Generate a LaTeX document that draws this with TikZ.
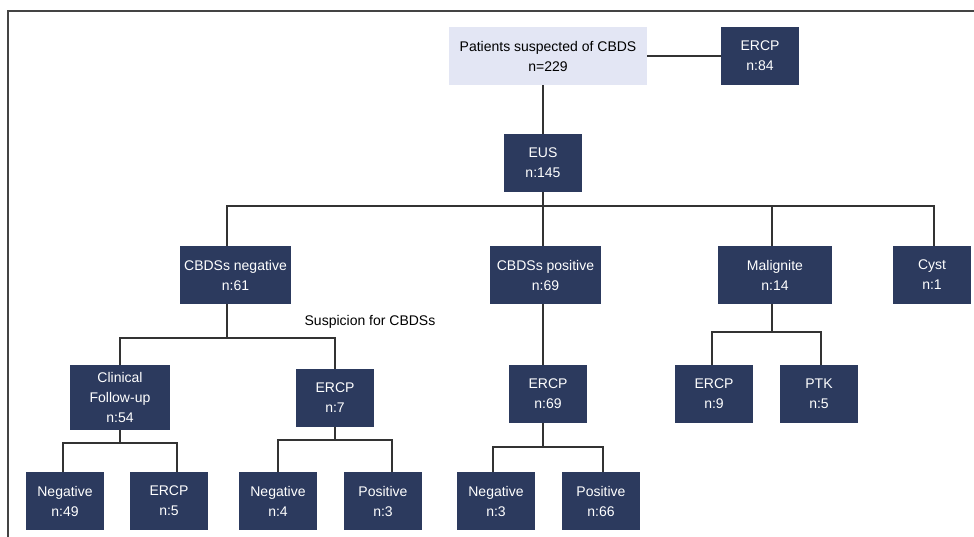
\documentclass[tikz,border=0pt]{standalone}
\usepackage{fontspec}
\setmainfont{Liberation Sans}
\usepackage{tikz}
\usetikzlibrary{positioning, calc}
\usepackage{xcolor}
\definecolor{FlowNavy}{HTML}{2C3A5E}
\definecolor{FlowLavender}{HTML}{E3E6F4}
\definecolor{FlowLine}{HTML}{333333}
\definecolor{FlowFrame}{HTML}{444444}
\definecolor{FlowWhite}{HTML}{ffffff}
\tikzset{
    % Box styles - all sharp corners
    cohort/.style={
        rectangle,
        fill=FlowLavender,
        minimum width=198pt,
        minimum height=58pt,
        inner sep=0pt,
        align=center,
        font=\fontsize{14}{20}\selectfont
    },
    stage/.style={
        rectangle,
        fill=FlowNavy,
        text=FlowWhite,
        minimum width=78pt,
        minimum height=58pt,
        inner sep=0pt,
        align=center,
        font=\fontsize{14}{20}\selectfont
    },
    % Connector styles - elbow lines only
    link/.style={
        line width=1.2pt,
        draw=FlowLine
    },
    frameline/.style={
        line width=1.5pt,
        draw=FlowFrame
    }
}
\begin{document}
\begin{tikzpicture}[x=1pt, y=-1pt]
    \useasboundingbox (0,0) rectangle (974,537);
    \draw[frameline] (8,537) -- (8,11) -- (974,11);

    % top level
    \node[cohort] (pat) at (548,56) {Patients suspected of CBDS\\n=229};
    \node[stage] (ercp0) at (760,56) {ERCP\\n:84};
    \node[stage] (eus) at (543,163) {EUS\\n:145};

    % EUS findings
    \node[stage, minimum width=111pt] (cneg) at (235.5,275) {CBDSs negative\\n:61};
    \node[stage, minimum width=111pt] (cpos) at (545.5,275) {CBDSs positive\\n:69};
    \node[stage, minimum width=114pt] (malig) at (775,275) {Malignite\\n:14};
    \node[stage] (cyst) at (932,275) {Cyst\\n:1};

    % second row
    \node[stage, minimum width=100pt, minimum height=65pt] (clin) at (120,397.5) {Clinical\\Follow-up\\n:54};
    \node[stage] (ercp7) at (335,398) {ERCP\\n:7};
    \node[stage] (ercp69) at (548,394) {ERCP\\n:69};
    \node[stage] (ercp9) at (714,394) {ERCP\\n:9};
    \node[stage] (ptk) at (819,394) {PTK\\n:5};
    \node[font=\fontsize{14}{20}\selectfont] (susp) at (370,322) {Suspicion for CBDSs};

    % bottom row
    \node[stage] (neg49) at (65,501) {Negative\\n:49};
    \node[stage] (ercp5) at (169,501) {ERCP\\n:5};
    \node[stage] (neg4) at (278,501) {Negative\\n:4};
    \node[stage] (pos3) at (383,501) {Positive\\n:3};
    \node[stage] (neg3) at (496,501) {Negative\\n:3};
    \node[stage] (pos66) at (601,501) {Positive\\n:66};

    % branch points
    \coordinate (eusbus) at (543,206);
    \coordinate (negbus) at (227,338);
    \coordinate (clinbus) at (120,443);
    \coordinate (ercpbus) at (335,440);
    \coordinate (posbus) at (543,447);
    \coordinate (maligbus) at (772,332);

    \draw[link] (pat) -- (ercp0);
    \draw[link] (eus.north |- pat.south) -- (eus.north);
    \draw[link] (eus) -- (eusbus);
    \draw[link] (eusbus) -| ([xshift=-8.5]cneg.north);
    \draw[link] (eusbus) -| ([xshift=-2.5]cpos.north);
    \draw[link] (eusbus) -| ([xshift=-3]malig.north);
    \draw[link] (eusbus) -| ([xshift=2]cyst.north);

    \draw[link] ([xshift=-8.5]cneg.south) -- (negbus);
    \draw[link] (negbus) -| (clin);
    \draw[link] (negbus) -| (ercp7);

    \draw[link] (clin) -- (clinbus);
    \draw[link] (clinbus) -| ([xshift=-2]neg49.north);
    \draw[link] (clinbus) -| ([xshift=8]ercp5.north);

    \draw[link] (ercp7) -- (ercpbus);
    \draw[link] (ercpbus) -| (neg4);
    \draw[link] (ercpbus) -| ([xshift=9]pos3.north);

    \draw[link] ([xshift=-2.5]cpos.south) -- ([xshift=-5]ercp69.north);
    \draw[link] ([xshift=-5]ercp69.south) -- (posbus);
    \draw[link] (posbus) -| ([xshift=-3]neg3.north);
    \draw[link] (posbus) -| ([xshift=2]pos66.north);

    \draw[link] ([xshift=-3]malig.south) -- (maligbus);
    \draw[link] (maligbus) -| ([xshift=-2]ercp9.north);
    \draw[link] (maligbus) -| ([xshift=2]ptk.north);
\end{tikzpicture}
\end{document}
